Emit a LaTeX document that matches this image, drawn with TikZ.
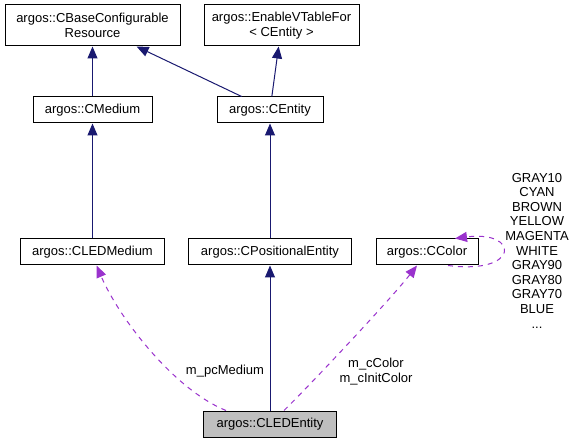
\documentclass[tikz,border=0pt]{standalone}
\usepackage{fontspec}
\setmainfont{Liberation Sans}
\usetikzlibrary{arrows.meta}
\definecolor{edgeblue}{HTML}{191970}
\definecolor{edgepurple}{HTML}{9A32CD}
\begin{document}
\begin{tikzpicture}[x=1pt,y=-1pt,
	cls/.style={draw=black,line width=1pt,fill=white,inner sep=0pt,minimum height=26pt,align=center,font=\fontsize{13}{15}\selectfont},
	inh/.style={draw=edgeblue,line width=1pt,-{Triangle[length=12pt,width=10pt]}},
	usage/.style={draw=edgepurple,line width=1pt,dash pattern=on 5pt off 5pt,-{Triangle[length=12pt,width=10pt]}},
	lbl/.style={align=center,inner sep=0pt,font=\fontsize{13}{14.6}\selectfont}]
\useasboundingbox[fill=white] (0,0) rectangle (575,443);
\node [cls,minimum width=175pt,minimum height=41pt] (base) at (92.5,25.5) {argos::CBaseConfigurable\\Resource};
\node [cls,minimum width=155pt,minimum height=41pt] (vtab) at (281.5,25.5) {argos::EnableVTableFor\\\textless{} CEntity \textgreater};
\node [cls,minimum width=119pt] (medium) at (92.5,110) {argos::CMedium};
\node [cls,minimum width=106pt] (entity) at (270,110) {argos::CEntity};
\node [cls,minimum width=144pt] (ledmedium) at (92.5,252) {argos::CLEDMedium};
\node [cls,minimum width=163pt] (posent) at (270,252) {argos::CPositionalEntity};
\node [cls,minimum width=102pt] (color) at (427,252) {argos::CColor};
\node [cls,minimum width=133pt,fill=black!25] (ledentity) at (270,424) {argos::CLEDEntity};
% inheritance
\draw [inh] (medium) -- (base);
\draw [inh] (entity) -- (base);
\draw [inh] (entity) -- (vtab);
\draw [inh] (ledmedium) -- (medium);
\draw [inh] (posent) -- (entity);
\draw [inh] (ledentity) -- (posent);
% usage
\draw [usage] ([xshift=-44pt]ledentity.north) .. controls (175,390) and (120,320) .. ([xshift=4pt]ledmedium.south);
\draw [usage] ([xshift=14pt]ledentity.north) .. controls (310,385) and (390,300) .. ([xshift=-10pt]color.south);
\draw [usage] ([xshift=21pt]color.south) .. controls (520,275) and (520,230) .. ([xshift=28pt]color.north);
\node [lbl] (lmedium) at (225,371) {m\_pcMedium};
\node [lbl] (lcolor) at (376,371.5) {m\_cColor\\m\_cInitColor};
\node [lbl] (lconst) at (537,250.5) {GRAY10\\CYAN\\BROWN\\YELLOW\\MAGENTA\\WHITE\\GRAY90\\GRAY80\\GRAY70\\BLUE\\...};
\end{tikzpicture}
\end{document}
